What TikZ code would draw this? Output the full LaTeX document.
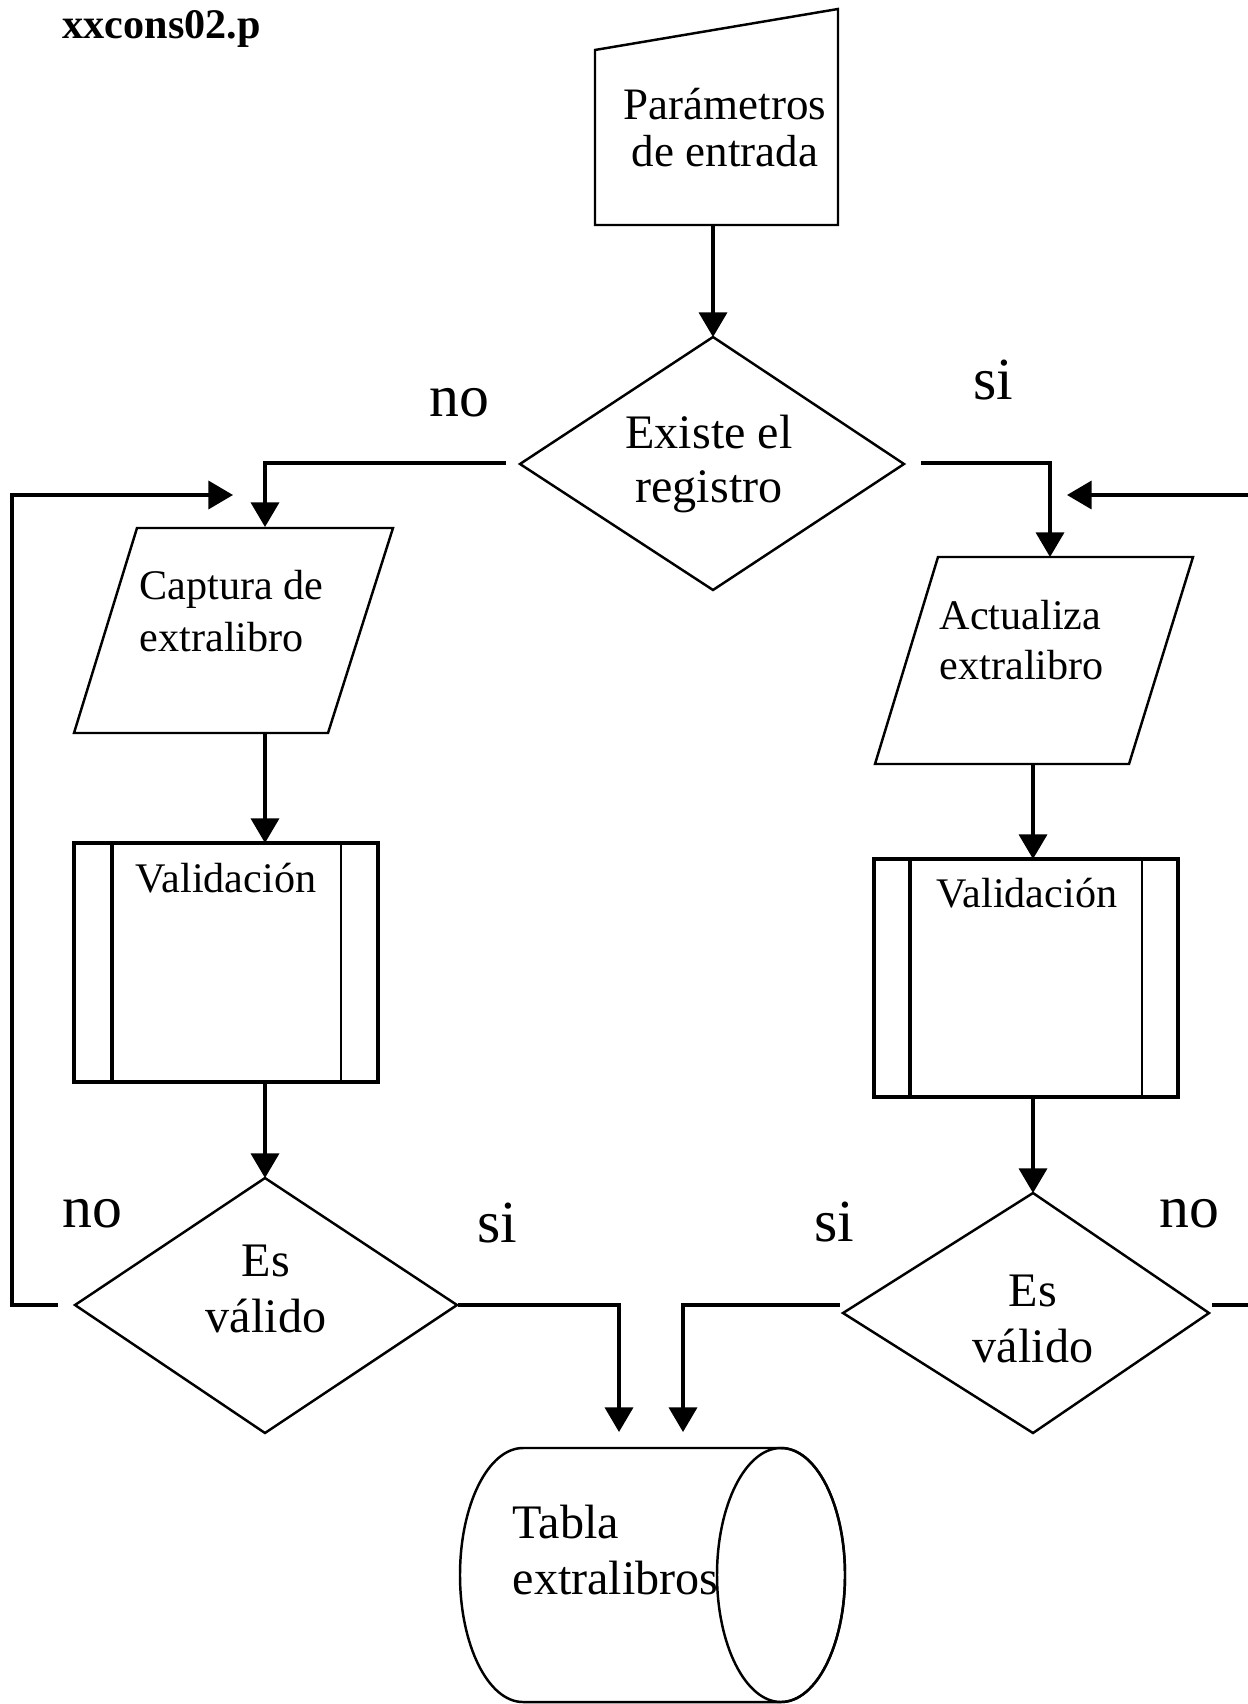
\documentclass[tikz,border=0pt]{standalone}
\usepackage{fontspec}
\setmainfont{Liberation Serif}
\usetikzlibrary{arrows.meta}

\tikzset{
  figura/.style={line width=0.7pt},
  caja/.style={line width=1.1pt},
  flecha/.style={line width=0.9pt, -{Triangle[width=8pt,length=7pt]}},
  texto/.style={inner sep=0pt, align=center, font=\fontsize{12}{13.4}\selectfont},
  textogr/.style={inner sep=0pt, align=center, font=\fontsize{13.7}{16}\selectfont},
  etiqueta/.style={inner sep=0pt, anchor=base, font=\fontsize{17}{20}\selectfont},
}

\begin{document}
\begin{tikzpicture}
  \useasboundingbox (0,0) rectangle (12.48,-17.04);

  \node[anchor=base west, inner sep=0pt, font=\bfseries\fontsize{12}{14}\selectfont] (titulo) at (0.62,-0.39) {xxcons02.p};

  % entrada manual
  \coordinate (E1) at (5.95,-0.50);
  \coordinate (E2) at (8.38,-0.09);
  \coordinate (E3) at (8.38,-2.25);
  \coordinate (E4) at (5.95,-2.25);
  \coordinate (Eb) at (7.13,-2.25);
  \draw[figura] (E1) -- (E2) -- (E3) -- (E4) -- cycle;
  \node[texto, font=\fontsize{12.8}{13.4}\selectfont] (entrada) at (7.25,-1.28) {Parámetros\\de entrada};

  % existe el registro
  \coordinate (D1l) at (5.20,-4.64);
  \coordinate (D1t) at (7.13,-3.37);
  \coordinate (D1r) at (9.04,-4.64);
  \coordinate (D1b) at (7.13,-5.90);
  \draw[figura] (D1l) -- (D1t) -- (D1r) -- (D1b) -- cycle;
  \node[textogr, font=\fontsize{13.7}{15.4}\selectfont] (existe) at (7.09,-4.64) {Existe el\\registro};
  \coordinate (D1no) at (5.06,-4.63);
  \coordinate (D1si) at (9.21,-4.63);

  % rama izquierda
  \coordinate (P1a) at (1.37,-5.28);
  \coordinate (P1b) at (3.93,-5.28);
  \coordinate (P1c) at (3.28,-7.33);
  \coordinate (P1d) at (0.74,-7.33);
  \coordinate (P1t) at (2.65,-5.27);
  \coordinate (P1s) at (2.65,-7.33);
  \draw[figura] (P1a) -- (P1b) -- (P1c) -- (P1d) -- cycle;
  \node[texto, align=left, anchor=west, font=\fontsize{12}{15}\selectfont] (captura) at (1.39,-6.11) {Captura de\\extralibro};

  \coordinate (V1t) at (2.65,-8.43);
  \coordinate (V1b) at (2.65,-10.82);
  \draw[caja] (0.74,-8.43) rectangle (3.78,-10.82);
  \draw[caja] (1.12,-8.43) -- (1.12,-10.82);
  \draw[figura] (3.41,-8.43) -- (3.41,-10.82);
  \node[texto, anchor=base] (valida1) at (2.26,-8.92) {Validación};

  \coordinate (D2l) at (0.75,-13.05);
  \coordinate (D2t) at (2.65,-11.78);
  \coordinate (D2r) at (4.57,-13.05);
  \coordinate (D2b) at (2.65,-14.33);
  \draw[figura] (D2l) -- (D2t) -- (D2r) -- (D2b) -- cycle;
  \node[textogr] (esvalido1) at (2.66,-12.89) {Es\\válido};
  \coordinate (D2no) at (0.58,-13.05);
  \coordinate (D2si) at (4.58,-13.05);
  \coordinate (lazoI) at (0.12,-4.95);
  \coordinate (finI) at (2.33,-4.95);

  % rama derecha
  \coordinate (P2a) at (9.38,-5.57);
  \coordinate (P2b) at (11.93,-5.57);
  \coordinate (P2c) at (11.29,-7.64);
  \coordinate (P2d) at (8.75,-7.64);
  \coordinate (P2t) at (10.50,-5.57);
  \coordinate (P2s) at (10.33,-7.64);
  \draw[figura] (P2a) -- (P2b) -- (P2c) -- (P2d) -- cycle;
  \node[texto, align=left, anchor=west, font=\fontsize{12}{14.2}\selectfont] (actualiza) at (9.39,-6.40) {Actualiza\\extralibro};

  \coordinate (V2t) at (10.33,-8.59);
  \coordinate (V2b) at (10.33,-10.97);
  \draw[caja] (8.74,-8.59) rectangle (11.78,-10.97);
  \draw[caja] (9.10,-8.59) -- (9.10,-10.97);
  \draw[figura] (11.42,-8.59) -- (11.42,-10.97);
  \node[texto, anchor=base] (valida2) at (10.27,-9.07) {Validación};

  \coordinate (D3l) at (8.43,-13.13);
  \coordinate (D3t) at (10.33,-11.93);
  \coordinate (D3r) at (12.09,-13.13);
  \coordinate (D3b) at (10.33,-14.33);
  \draw[figura] (D3l) -- (D3t) -- (D3r) -- (D3b) -- cycle;
  \node[textogr] (esvalido2) at (10.33,-13.19) {Es\\válido};
  \coordinate (D3si) at (8.40,-13.05);
  \coordinate (D3no) at (12.12,-13.05);
  \coordinate (lazoD) at (12.60,-4.95);
  \coordinate (finD) at (10.67,-4.95);

  % tabla
  \coordinate (T1) at (6.19,-14.32);
  \coordinate (T2) at (6.83,-14.32);
  \draw[figura] (5.23,-14.48) -- (7.81,-14.48)
    arc[start angle=90, end angle=-90, x radius=0.64, y radius=1.27]
    -- (5.23,-17.02)
    arc[start angle=270, end angle=90, x radius=0.63, y radius=1.27];
  \draw[figura] (7.81,-15.75) ellipse [x radius=0.64, y radius=1.27];
  \node[textogr, align=left, anchor=west, font=\fontsize{13.7}{16.2}\selectfont] (tabla) at (5.12,-15.50) {Tabla\\extralibros};

  % conectores
  \draw[flecha] (Eb) -- (D1t);
  \draw[flecha] (D1no) -| (P1t);
  \draw[flecha] (D1si) -| (P2t);
  \draw[flecha] (P1s) -- (V1t);
  \draw[flecha] (V1b) -- (D2t);
  \draw[flecha] (P2s) -- (V2t);
  \draw[flecha] (V2b) -- (D3t);
  \draw[flecha] (D2no) -| (lazoI) -- (finI);
  \draw[flecha] (D3no) -| (lazoD) -- (finD);
  \draw[flecha] (D2si) -| (T1);
  \draw[flecha] (D3si) -| (T2);

  \node[etiqueta] (no1) at (4.59,-4.17) {no};
  \node[etiqueta] (si1) at (9.93,-4.00) {si};
  \node[etiqueta] (no2) at (0.92,-12.27) {no};
  \node[etiqueta] (si2) at (4.97,-12.42) {si};
  \node[etiqueta] (si3) at (8.34,-12.41) {si};
  \node[etiqueta] (no3) at (11.89,-12.27) {no};
\end{tikzpicture}
\end{document}
